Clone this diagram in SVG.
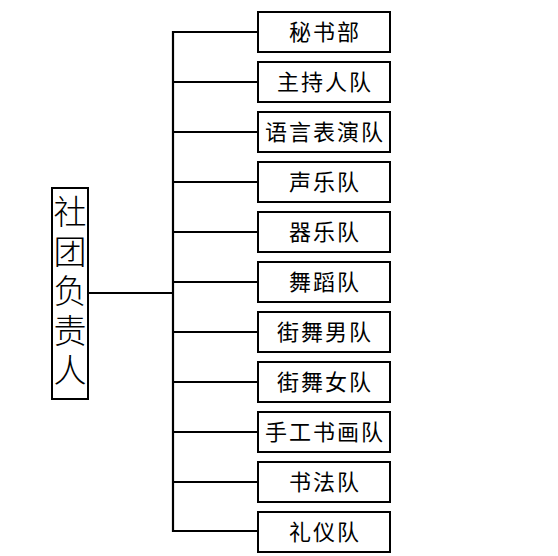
<svg xmlns="http://www.w3.org/2000/svg" width="558" height="556" viewBox="0 0 558 556">
<style>
rect{fill:#fff;stroke:#000;stroke-width:2}
.c line{stroke:#000;stroke-width:2.2}
text{font-family:"Noto Sans CJK SC","Noto Sans CJK JP",sans-serif;fill:#000}
.s{font-size:22px;letter-spacing:2px;text-anchor:middle;dominant-baseline:central}
.m{font-size:33px;font-weight:300;writing-mode:vertical-rl;letter-spacing:6.5px}
</style>
<rect width="558" height="556" style="fill:#fff;stroke:none"/>
<g class="c">
<line x1="88" y1="293" x2="173" y2="293"/>
<line x1="173" y1="31" x2="173" y2="532"/>
<line x1="172" y1="32" x2="258" y2="32"/>
<line x1="172" y1="82" x2="258" y2="82"/>
<line x1="172" y1="132" x2="258" y2="132"/>
<line x1="172" y1="182" x2="258" y2="182"/>
<line x1="172" y1="232" x2="258" y2="232"/>
<line x1="172" y1="282" x2="258" y2="282"/>
<line x1="172" y1="332" x2="258" y2="332"/>
<line x1="172" y1="382" x2="258" y2="382"/>
<line x1="172" y1="432" x2="258" y2="432"/>
<line x1="172" y1="482" x2="258" y2="482"/>
<line x1="172" y1="531" x2="258" y2="531"/>
</g>
<g id="root"><rect x="52" y="188" width="36" height="211"/>
<text class="m" x="70" y="195">社团负责人</text></g>
<g id="n1"><rect x="258" y="12" width="132" height="40"/><text class="s" x="325" y="29.5">秘书部</text></g>
<g id="n2"><rect x="258" y="62" width="132" height="40"/><text class="s" x="325" y="79.5">主持人队</text></g>
<g id="n3"><rect x="258" y="112" width="132" height="40"/><text class="s" x="325" y="129.5">语言表演队</text></g>
<g id="n4"><rect x="258" y="162" width="132" height="40"/><text class="s" x="325" y="179.5">声乐队</text></g>
<g id="n5"><rect x="258" y="212" width="132" height="40"/><text class="s" x="325" y="229.5">器乐队</text></g>
<g id="n6"><rect x="258" y="262" width="132" height="40"/><text class="s" x="325" y="279.5">舞蹈队</text></g>
<g id="n7"><rect x="258" y="312" width="132" height="40"/><text class="s" x="325" y="329.5">街舞男队</text></g>
<g id="n8"><rect x="258" y="362" width="132" height="40"/><text class="s" x="325" y="379.5">街舞女队</text></g>
<g id="n9"><rect x="258" y="412" width="132" height="40"/><text class="s" x="325" y="429.5">手工书画队</text></g>
<g id="n10"><rect x="258" y="462" width="132" height="40"/><text class="s" x="325" y="479.5">书法队</text></g>
<g id="n11"><rect x="258" y="512" width="132" height="40"/><text class="s" x="325" y="529.5">礼仪队</text></g>
</svg>
